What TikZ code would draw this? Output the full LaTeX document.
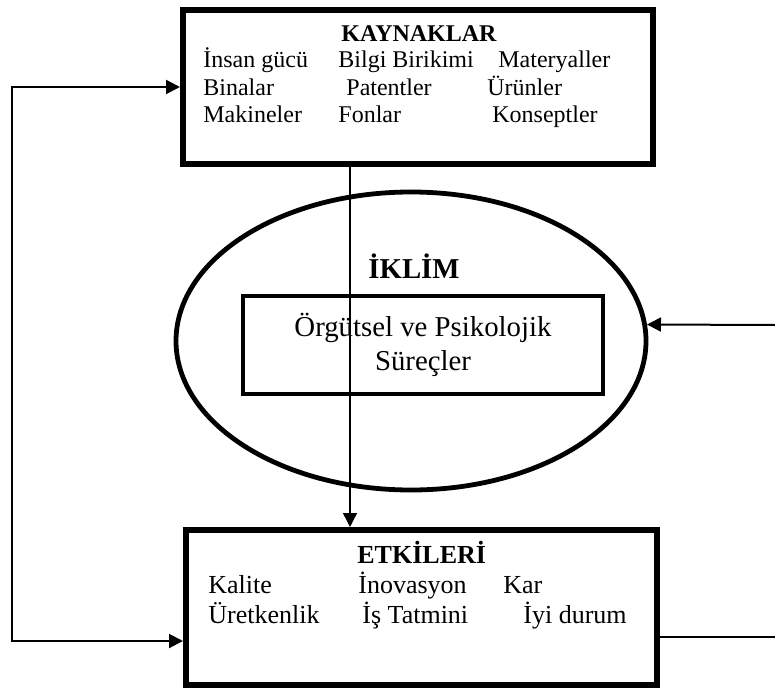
\documentclass[tikz,border=0pt]{standalone}
\usepackage{fontspec}
\setmainfont{Liberation Serif}
\usetikzlibrary{shapes.geometric, arrows.meta}

\begin{document}
\begin{tikzpicture}[x=0.5pt, y=-0.5pt,
  box/.style={draw, line width=3pt, rectangle, minimum width=235pt, minimum height=77pt},
  ellip/.style={draw, line width=2.4pt, ellipse, minimum width=235pt, minimum height=149pt},
  inbox/.style={draw, line width=2.2pt, rectangle, minimum width=180pt, minimum height=49pt, align=center, font=\fontsize{14.4}{17}\selectfont},
  word/.style={inner sep=0pt, anchor=base west, font=\fontsize{12}{14}\selectfont},
  wordb/.style={inner sep=0pt, anchor=base west, font=\fontsize{13}{15}\selectfont},
  arr/.style={line width=1pt, -{Triangle[length=7pt, width=7pt]}}]

\useasboundingbox (0,0) rectangle (775,695);

% Top box: resources
\node[box] (kay) at (418, 87) {};
\node[word, anchor=base, font=\fontsize{12}{14}\selectfont\bfseries] (kaytitle) at (419, 42) {KAYNAKLAR};
\node[word] (insan) at (203, 68) {İnsan gücü};
\node[word] (bilgi) at (338, 68) {Bilgi Birikimi};
\node[word] (mater) at (498, 68) {Materyaller};
\node[word] (bina) at (203, 96) {Binalar};
\node[word] (patent) at (346, 96) {Patentler};
\node[word] (urun) at (487, 96) {Ürünler};
\node[word] (makine) at (203, 123) {Makineler};
\node[word] (fon) at (338, 123) {Fonlar};
\node[word] (konsept) at (492, 123) {Konseptler};

% Climate ellipse with processes
\node[ellip] (ell) at (411, 341) {};
\node[inner sep=0pt, anchor=base, font=\fontsize{14.4}{17}\selectfont\bfseries] (iklim) at (414, 278) {İKLİM};
\node[inbox] (surec) at (423, 345) {Örgütsel ve Psikolojik\\Süreçler};

% Bottom box: effects
\node[box, minimum width=235.5pt, minimum height=77.5pt] (etk) at (421.5, 607.5) {};
\node[wordb, font=\fontsize{13}{15}\selectfont\bfseries] (etktitle) at (357, 563) {ETKİLERİ};
\node[wordb] (kalite) at (208, 593) {Kalite};
\node[wordb] (inov) at (358, 593) {İnovasyon};
\node[wordb] (kar) at (503, 593) {Kar};
\node[wordb] (uret) at (208, 623) {Üretkenlik};
\node[wordb] (tatmin) at (362, 623) {İş Tatmini};
\node[wordb] (iyi) at (523, 623) {İyi durum};

% Connectors
\coordinate (axis) at (350, 345);
\coordinate (lbot) at (12, 641);
\coordinate (rin) at (775, 325);
\coordinate (rout) at (775, 637);

\draw[arr, line width=0.7pt] (kay.south -| axis) -- (etk.north -| axis);
\draw[arr, {Triangle[length=7pt, width=7pt]}-{Triangle[length=7pt, width=7pt]}] (kay.west) -| (lbot) -- (etk.west |- lbot);
\draw[arr] (rin) -- (ell.4);
\draw[line width=1pt] (etk.east |- rout) -- (rout);

\end{tikzpicture}
\end{document}
